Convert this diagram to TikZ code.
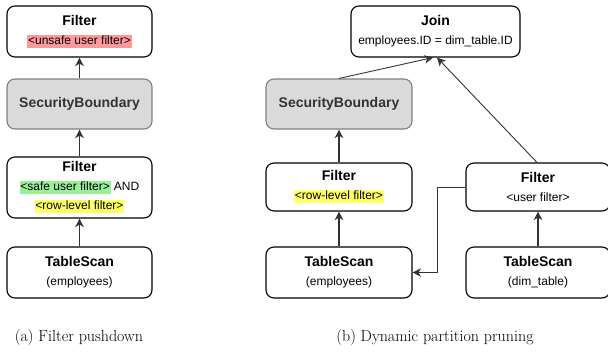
\documentclass[tikz,border=0pt]{standalone}
\usepackage{fontspec}
\setsansfont{Liberation Sans}
\usetikzlibrary{arrows.meta}

\definecolor{hlred}{HTML}{FF9999}
\definecolor{hlgreen}{HTML}{99F099}
\definecolor{hlyellow}{HTML}{FFFF66}
\definecolor{sbfill}{HTML}{DADADA}
\definecolor{sbline}{HTML}{808080}
\definecolor{sbtext}{HTML}{333333}
\definecolor{wire}{HTML}{333333}

% highlighted predicate text
\newcommand{\hlmark}[2]{{\setlength{\fboxsep}{0.8pt}\colorbox{#1}{\rule[-2.8pt]{0pt}{11.5pt}#2}}}
% bold operator name
\newcommand{\optitle}[1]{{\fontsize{14}{19}\selectfont\bfseries #1}}

\tikzset{
  op/.style={draw=black, line width=1.1pt, rounded corners=8pt, align=center,
    inner sep=0pt, font=\sffamily\fontsize{12}{19}\selectfont,
    minimum width=145pt, minimum height=51pt},
  sb/.style={op, fill=sbfill, draw=sbline, text=sbtext},
  flow/.style={draw=wire, line width=1.2pt,
    -{Stealth[length=8.5pt,width=8.5pt,inset=2.5pt]}},
  thinflow/.style={flow, line width=0.9pt},
  caption/.style={font=\fontsize{16}{18}\selectfont, inner sep=0pt}
}

\begin{document}
\begin{tikzpicture}[x=1pt, y=-1pt]
  \useasboundingbox (0,0) rectangle (608,351);
  \clip (0,0) rectangle (608,351);

  % (a) filter pushdown
  \node[op] (fa) at (79.5,31.5) {\optitle{Filter}\\\hlmark{hlred}{<unsafe user filter>}};
  \node[sb, minimum height=50pt] (sba) at (79.5,104) {\optitle{SecurityBoundary}};
  \node[op, minimum height=61pt] (fb) at (79.5,187.5)
    {\optitle{Filter}\\\hlmark{hlgreen}{<safe user filter>} AND\\\hlmark{hlyellow}{<row-level filter>}};
  \node[op] (tsa) at (79.5,272.5) {\optitle{TableScan}\\(employees)};

  \draw[flow] (sba.north) -- (fa.south);
  \draw[flow] (fb.north) -- (sba.south);
  \draw[flow] (tsa.north) -- (fb.south);

  \node[caption] (capa) at (79,338) {(a) Filter pushdown};

  % (b) dynamic partition pruning
  \node[op, minimum width=169pt] (join) at (435.5,31.5)
    {\optitle{Join}\\employees.ID = dim\_table.ID};
  \node[sb, minimum width=146pt, minimum height=50pt] (sbb) at (339,104) {\optitle{SecurityBoundary}};
  \node[op, minimum width=146pt, minimum height=48pt] (fr) at (339,187)
    {\optitle{Filter}\\\hlmark{hlyellow}{<row-level filter>}};
  \node[op, minimum width=144pt, minimum height=48pt] (fu) at (538,187)
    {\optitle{Filter}\\<user filter>};
  \node[op, minimum width=146pt] (tse) at (339,272.5) {\optitle{TableScan}\\(employees)};
  \node[op, minimum width=144pt] (tsd) at (538,272.5) {\optitle{TableScan}\\(dim\_table)};

  \draw[flow] (tse.north) -- (fr.south);
  \draw[flow] (fr.north) -- (sbb.south);
  \draw[flow] (tsd.north) -- (fu.south);
  \draw[thinflow] (sbb.north) -- ([xshift=-2.5pt]join.south);
  \draw[thinflow] ([xshift=-1pt]fu.north) -- ([xshift=1.5pt]join.south);
  \draw[thinflow] (fu.west) -- ++(-28,0) |- (tse.east);

  \node[caption] (capb) at (435,338) {(b) Dynamic partition pruning};
\end{tikzpicture}
\end{document}
